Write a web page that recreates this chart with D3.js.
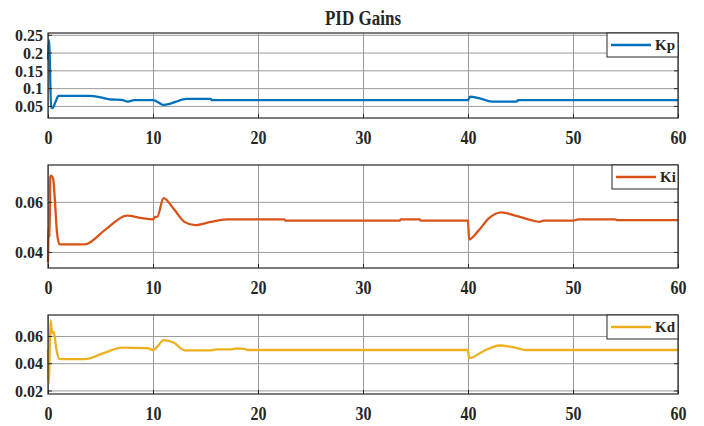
<!DOCTYPE html>
<html>
<head>
<meta charset="utf-8">
<script src="https://cdn.jsdelivr.net/npm/d3@7"></script>
<style>
  body { margin: 0; background: #fff; }
  svg text { font-family: 'Liberation Serif', 'Times New Roman', serif; font-weight: bold; fill: #262626; }
</style>
</head>
<body>
<svg width="704" height="426"></svg>
<script>
// time axis ticks
var xTicks = [0, 10, 20, 30, 40, 50, 60];

// Kp
var kpTime = [0, 0.1, 0.15, 0.3, 0.45, 0.7, 1.0, 4.0, 5.0, 6.0, 7.0, 7.6, 8.2, 10.0, 10.5, 11.0, 11.5, 12.5, 13.2, 15.5, 15.6, 40.0, 40.2, 41.0, 42.3, 44.6, 44.8, 60];
var kpVals = [0.18, 0.235, 0.2, 0.045, 0.044, 0.06, 0.078, 0.078, 0.074, 0.068, 0.067, 0.062, 0.066, 0.066, 0.06, 0.053, 0.055, 0.065, 0.07, 0.07, 0.066, 0.066, 0.076, 0.072, 0.062, 0.062, 0.066, 0.066];
var kpTicks = [0.05, 0.1, 0.15, 0.2, 0.25];

// Ki
var kiTime = [0, 0.08, 0.15, 0.22, 0.3, 0.5, 0.65, 0.85, 1.1, 3.5, 5.5, 7.5, 9.0, 10.0, 10.2, 10.4, 11.0, 12.0, 13.0, 14.0, 15.5, 17.0, 22.5, 22.6, 30.0, 33.5, 33.6, 35.4, 35.5, 40.0, 40.1, 41.0, 42.0, 43.2, 44.5, 46.0, 46.8, 47.2, 50.0, 50.5, 54.0, 54.2, 60];
var kiVals = [0.036, 0.05, 0.046, 0.07, 0.0705, 0.069, 0.061, 0.048, 0.043, 0.043, 0.049, 0.0545, 0.0535, 0.053, 0.054, 0.054, 0.0615, 0.057, 0.052, 0.0507, 0.052, 0.053, 0.053, 0.0525, 0.0525, 0.0525, 0.053, 0.053, 0.0525, 0.0525, 0.045, 0.0485, 0.0535, 0.0558, 0.0545, 0.0527, 0.052, 0.0525, 0.0525, 0.053, 0.053, 0.0527, 0.0527];
var kiTicks = [0.04, 0.06];

// Kd
var kdTime = [0, 0.08, 0.15, 0.25, 0.4, 0.55, 0.8, 1.1, 3.5, 5.5, 7.0, 9.5, 10.0, 10.5, 11.0, 12.0, 13.0, 15.5, 16.0, 17.5, 18.0, 18.7, 19.0, 40.0, 40.1, 41.5, 43.0, 44.5, 45.5, 60];
var kdVals = [0.05, 0.025, 0.045, 0.0715, 0.062, 0.063, 0.05, 0.043, 0.043, 0.048, 0.0515, 0.051, 0.0497, 0.053, 0.057, 0.055, 0.0495, 0.0495, 0.0502, 0.0502, 0.0508, 0.0505, 0.0497, 0.0497, 0.0437, 0.049, 0.053, 0.0515, 0.0497, 0.0497];
var kdTicks = [0.02, 0.04, 0.06];

var svg = d3.select('svg'),
  left = 48,
  right = 678;

var x = d3.scaleLinear().domain([0, 60]).range([left, right]);

var panels = [
  {name: 'Kp', time: kpTime, vals: kpVals, ticks: kpTicks, color: '#0072BD', top: 33, bottom: 118, domain: [0.016, 0.255], legW: 71},
  {name: 'Ki', time: kiTime, vals: kiVals, ticks: kiTicks, color: '#D95319', top: 165, bottom: 268, domain: [0.0336, 0.0747], legW: 66},
  {name: 'Kd', time: kdTime, vals: kdVals, ticks: kdTicks, color: '#EDB120', top: 315, bottom: 394, domain: [0.0174, 0.0754], legW: 71},
];

var fmt = d => String(+d.toFixed(2));

svg
  .append('text')
  .attr('transform', 'translate(363,25) scale(1,1.17)')
  .attr('text-anchor', 'middle')
  .style('font-size', '17px')
  .text('PID Gains');

panels.forEach(function(p) {
  var y = d3.scaleLinear().domain(p.domain).range([p.bottom, p.top]);
  var g = svg.append('g');
  var w = right - left;

  // grid
  g
    .append('g')
    .attr('transform', 'translate(0,' + p.bottom + ')')
    .call(d3.axisBottom(x).tickValues(xTicks).tickSize(-(p.bottom - p.top)).tickFormat(''))
    .call(s => s.select('.domain').remove())
    .selectAll('line')
    .attr('stroke', '#9a9a9a');
  g
    .append('g')
    .attr('transform', 'translate(' + left + ',0)')
    .call(d3.axisLeft(y).tickValues(p.ticks).tickSize(-w).tickFormat(''))
    .call(s => s.select('.domain').remove())
    .selectAll('line')
    .attr('stroke', '#9a9a9a');

  var line = d3
    .line()
    .x((d, i) => x(p.time[i]))
    .y(d => y(d))
    .curve(d3.curveMonotoneX);

  g
    .append('path')
    .datum(p.vals)
    .attr('d', line)
    .attr('fill', 'none')
    .attr('stroke', p.color)
    .attr('stroke-width', 2.3)
    .attr('stroke-linejoin', 'round');

  // box
  g
    .append('rect')
    .attr('x', left)
    .attr('y', p.top)
    .attr('width', w)
    .attr('height', p.bottom - p.top)
    .attr('fill', 'none')
    .attr('stroke', '#262626')
    .attr('stroke-width', 1.2);

  // axes with inward ticks
  var xa = g
    .append('g')
    .attr('transform', 'translate(0,' + p.bottom + ')')
    .call(d3.axisBottom(x).tickValues(xTicks).tickSize(-4).tickFormat(d3.format('d')));
  xa.select('.domain').remove();
  xa.selectAll('line').attr('stroke', '#262626');
  xa
    .selectAll('text')
    .attr('y', 0)
    .attr('dy', 0)
    .attr('transform', 'translate(0,26) scale(1,1.18)')
    .attr('fill', '#262626')
    .style('font-size', '16px');

  var ya = g
    .append('g')
    .attr('transform', 'translate(' + left + ',0)')
    .call(d3.axisLeft(y).tickValues(p.ticks).tickSize(-4).tickFormat(fmt));
  ya.select('.domain').remove();
  ya.selectAll('line').attr('stroke', '#262626');
  ya
    .selectAll('text')
    .attr('x', -5)
    .attr('dy', '0.36em')
    .attr('fill', '#262626')
    .style('font-size', '16px');

  g
    .append('g')
    .attr('transform', 'translate(' + right + ',0)')
    .call(d3.axisRight(y).tickValues(p.ticks).tickSize(-4).tickFormat(''))
    .call(s => s.select('.domain').remove())
    .selectAll('line')
    .attr('stroke', '#262626');

  // legend
  var lg = g.append('g').attr('transform', 'translate(' + (right - p.legW) + ',' + p.top + ')');
  lg
    .append('rect')
    .attr('width', p.legW)
    .attr('height', 24)
    .attr('fill', '#fff')
    .attr('stroke', '#262626')
    .attr('stroke-width', 1);
  lg
    .append('line')
    .attr('x1', 4)
    .attr('x2', 44)
    .attr('y1', 12)
    .attr('y2', 12)
    .attr('stroke', p.color)
    .attr('stroke-width', 2.3);
  lg
    .append('text')
    .attr('x', 48)
    .attr('y', 17)
    .style('font-size', '15px')
    .text(p.name);
});
</script>
</body>
</html>
